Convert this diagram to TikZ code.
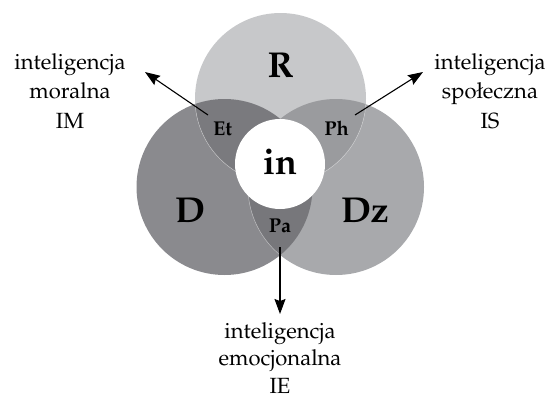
\documentclass[tikz,border=0pt]{standalone}
\usepackage[T1]{fontenc}
\usepackage{mathpazo}
\usetikzlibrary{arrows.meta}
\definecolor{cR}{HTML}{C7C8CA}
\definecolor{cD}{HTML}{8A8A8E}
\definecolor{cDz}{HTML}{A8A9AC}
\definecolor{cEt}{HTML}{7A7A7E}
\definecolor{cPh}{HTML}{9A9B9E}
\definecolor{cPa}{HTML}{77777B}
\definecolor{cTri}{HTML}{6E6E72}
\tikzset{
  lbl/.style={anchor=base,font=\fontsize{22}{28}\selectfont,inner sep=0pt},
  big/.style={anchor=base,font=\fontsize{36}{36}\selectfont\bfseries,inner sep=0pt},
  small/.style={anchor=base,font=\fontsize{20}{20}\selectfont\bfseries,inner sep=0pt},
  arr/.style={line width=1.1pt,-{Stealth[length=15pt,width=11pt,inset=2pt]}},
  edge/.style={draw=white,draw opacity=0.45,line width=0.5pt}
}
\begin{document}
\begin{tikzpicture}[x=1pt,y=-1pt]
\useasboundingbox (0,0) rectangle (551,399);
\def\RR{85.5}
\def\rr{88}
% base circles
\fill[cD] (224.5,187) circle (\rr);
\fill[cDz] (336,187) circle (\rr);
\fill[cR] (280.5,98.5) circle (\RR);
% overlaps
\begin{scope}
  \clip (280.5,98.5) circle (\RR);
  \fill[cEt] (224.5,187) circle (\rr);
  \fill[cPh] (336,187) circle (\rr);
\end{scope}
\begin{scope}
  \clip (224.5,187) circle (\rr);
  \fill[cPa] (336,187) circle (\rr);
  \clip (280.5,98.5) circle (\RR);
  \fill[cTri] (336,187) circle (\rr);
\end{scope}
% faint outlines
\begin{scope}
  \clip (224.5,187) circle (\rr) (336,187) circle (\rr);
  \draw[edge] (280.5,98.5) circle (\RR);
\end{scope}
\begin{scope}
  \clip (224.5,187) circle (\rr);
  \draw[edge] (336,187) circle (\rr);
\end{scope}
% centre
\fill[white] (280,164) circle (45);
% labels in circles
\node[big] (R) at (280.5,77) {R};
\node[big] (D) at (190,222) {D};
\node[big] (Dz) at (365,222) {Dz};
\node[big] (in) at (280,174) {in};
\node[small] (Et) at (222.5,135) {Et};
\node[small] (Ph) at (336.5,135) {Ph};
\node[small] (Pa) at (280,232) {Pa};
% outer labels
\node[lbl] (im1) at (70,69) {inteligencja};
\node[lbl] (im2) at (70,98.5) {moralna};
\node[lbl] (im3) at (70,128) {IM};
\node[lbl] (is1) at (490,69) {inteligencja};
\node[lbl] (is2) at (490,98.5) {spo\l eczna};
\node[lbl] (is3) at (490,128) {IS};
\node[lbl] (ie1) at (280,338) {inteligencja};
\node[lbl] (ie2) at (280,365.5) {emocjonalna};
\node[lbl] (ie3) at (280,393) {IE};
% arrows
\coordinate (etS) at (208,115);
\coordinate (etT) at (145,72);
\coordinate (phS) at (355,115);
\coordinate (phT) at (423,72);
\coordinate (paS) at (280,247);
\coordinate (paT) at (280,314);
\draw[arr] (etS) -- (etT);
\draw[arr] (phS) -- (phT);
\draw[arr] (paS) -- (paT);
\end{tikzpicture}
\end{document}
